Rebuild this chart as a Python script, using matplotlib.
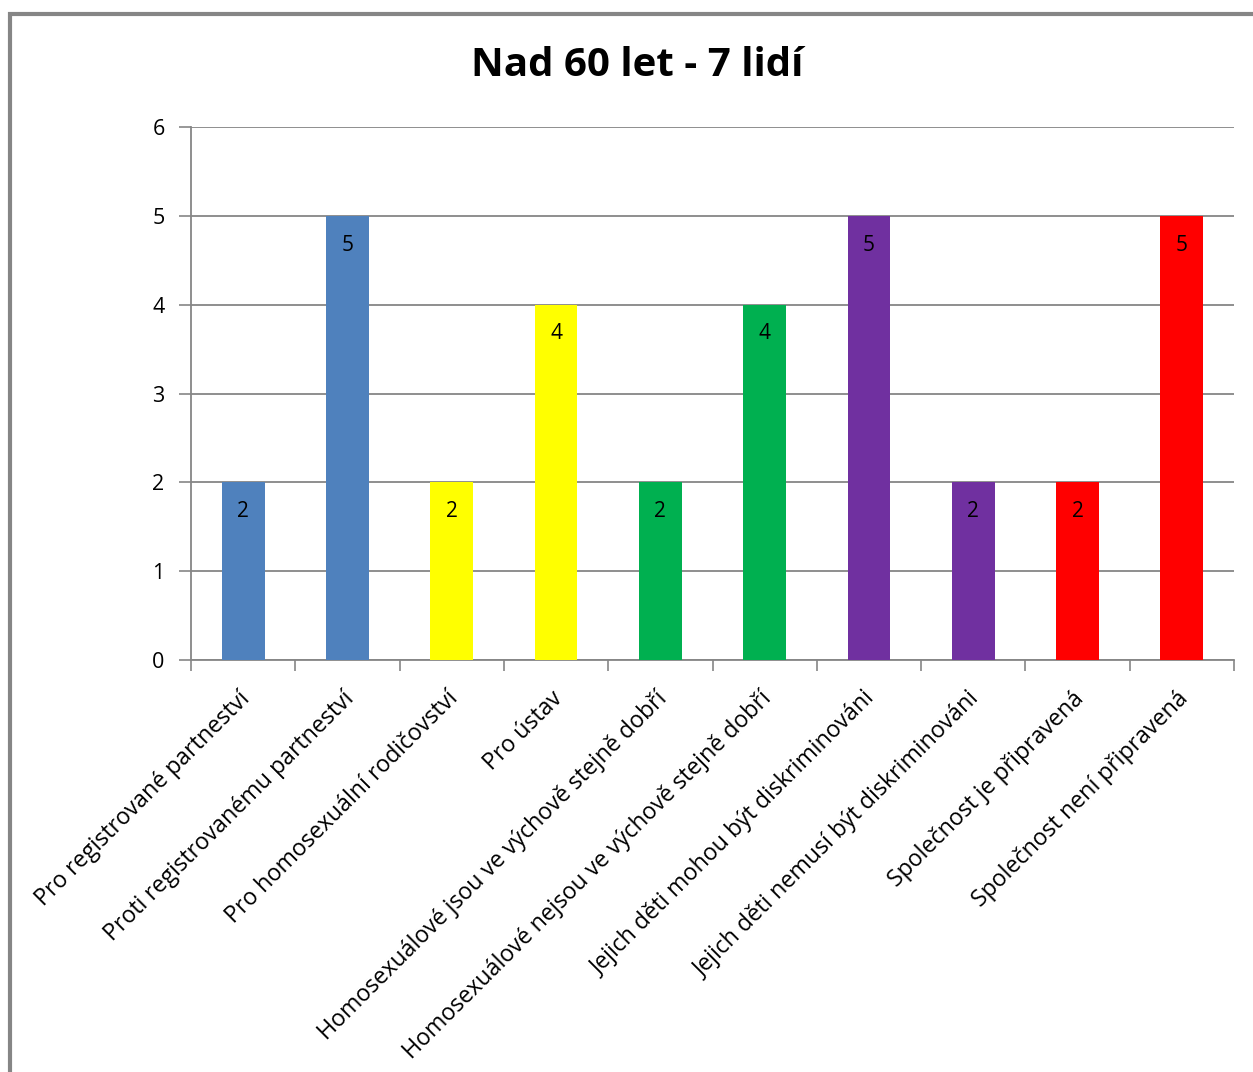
import matplotlib.pyplot as plt
from matplotlib.patches import Rectangle

plt.rcParams['font.family'] = ['Open Sans', 'DejaVu Sans']

categories = ["Pro registrované partneství",
              "Proti registrovanému partneství",
              "Pro homosexuální rodičovství",
              "Pro ústav",
              "Homosexuálové jsou ve výchově stejně dobří",
              "Homosexuálové nejsou ve výchově stejně dobří",
              "Jejich děti mohou být diskriminováni",
              "Jejich děti nemusí být diskriminováni",
              "Společnost je připravená",
              "Společnost není připravená"]
values = [2, 5, 2, 4, 2, 4, 5, 2, 2, 5]
colors = ["#4F81BD", "#4F81BD", "#FFFF00", "#FFFF00", "#00B050",
          "#00B050", "#7030A0", "#7030A0", "#FF0000", "#FF0000"]
title = "Nad 60 let - 7 lidí"

grid_col = "#868686"

fig = plt.figure(figsize=(12.53, 10.72), dpi=100)
# outer chart border (only left/top visible in the crop)
fig.patches.append(Rectangle((10 / 1253, -0.05), 1.2, 1 - 14 / 1072 + 0.05,
                             transform=fig.transFigure, fill=False,
                             edgecolor="#868686", linewidth=3))

ax = fig.add_axes([191 / 1253, 1 - 660 / 1072, (1234 - 191) / 1253, (660 - 127) / 1072])

x = list(range(len(categories)))
bars = ax.bar(x, values, width=0.41, color=colors, zorder=3)
for b, v in zip(bars, values):
    ax.text(b.get_x() + b.get_width() / 2, v - 0.33, str(v), ha='center',
            va='center', fontsize=15, zorder=4)

ax.set_xlim(-0.5, len(categories) - 0.5)
ax.set_ylim(0, 6)
ax.set_yticks(range(7))
ax.yaxis.grid(True, color=grid_col, linewidth=1.3, zorder=0)
ax.tick_params(axis='y', length=9, width=1.2, color=grid_col, labelsize=15.5, pad=10)

ax.set_xticks([i - 0.5 for i in range(len(categories) + 1)])
ax.set_xticklabels([])
ax.tick_params(axis='x', length=8, width=1.2, color=grid_col, direction='out')
for i, lab in enumerate(categories):
    ax.text(i - 0.05, -0.3, lab, rotation=45, ha='right', va='top',
            rotation_mode='anchor', fontsize=16.7)

for s in ['top', 'right']:
    ax.spines[s].set_visible(False)
ax.spines['left'].set_color(grid_col)
ax.spines['bottom'].set_color(grid_col)
ax.spines['left'].set_linewidth(1.3)
ax.spines['bottom'].set_linewidth(1.3)

fig.text(637 / 1253, 1 - 66 / 1072, title, ha='center', va='center',
         fontsize=29, fontweight='bold')

fig.savefig("out.png", dpi=100)
